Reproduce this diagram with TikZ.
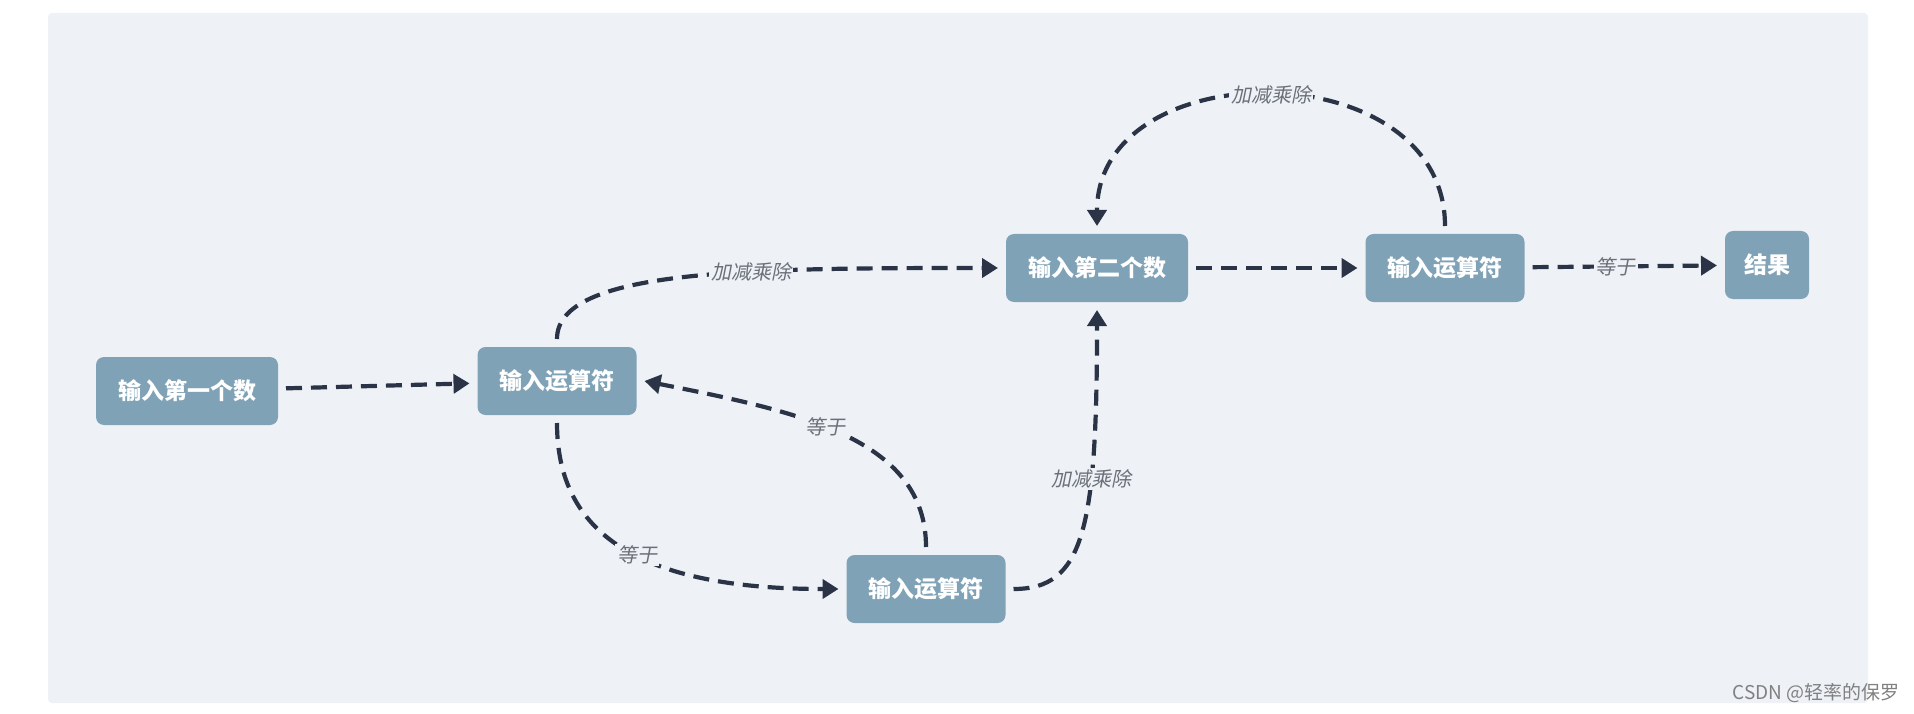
\documentclass[tikz,border=0pt]{standalone}
\usepackage{fontspec}
\usetikzlibrary{arrows.meta}
\newfontfamily\cjk{Noto Sans CJK SC}
\newfontfamily\cjkit{Noto Sans CJK SC}[FakeSlant=0.2]
\definecolor{panelc}{HTML}{EEF2F7}
\definecolor{boxc}{HTML}{7FA2B6}
\definecolor{linec}{HTML}{2B3446}
\definecolor{labelc}{HTML}{6B6F78}
\tikzset{
    stepbox/.style={fill=boxc, rounded corners=8pt, text=white, minimum height=68pt,
        inner xsep=22pt, outer sep=8pt, font=\cjk\bfseries\fontsize{23}{27}\selectfont},
    flow/.style={draw=linec, line width=4.2pt, dash pattern=on 16pt off 9pt,
        -{Triangle[length=16pt,width=19pt]}},
    cond/.style={fill=panelc, text=labelc, inner sep=2pt, font=\cjkit\fontsize{20}{22}\selectfont}
}
\begin{document}
\begin{tikzpicture}[x=1pt,y=-1pt]
        \fill[white] (0,0) rectangle (1914,714);
        \fill[panelc, rounded corners=4pt] (48,13) rectangle (1868,703);
        \useasboundingbox (0,0) rectangle (1914,714);
        \node (first) at (187,391) [stepbox] {输入第一个数};
        \node (opA) at (557,381) [stepbox] {输入运算符};
        \node (second) at (1097,268) [stepbox] {输入第二个数};
        \node (opC) at (1445,268) [stepbox] {输入运算符};
        \node (result) at (1767,265) [stepbox, inner xsep=19pt] {结果};
        \node (opB) at (926,589) [stepbox] {输入运算符};
        \draw[flow] (first) -- (opA);
        \draw[flow] (opA.north) .. controls +(0,-70) and +(-250,0) .. (second.west) node[cond, pos=0.63] {加减乘除};
        \draw[flow] (second) -- (opC);
        \draw[flow] (opC) -- (result) node[cond, pos=0.45] {等于};
        \draw[flow] (opC.north) .. controls +(0,-175) and +(0,-175) .. (second.north) node[cond, pos=0.5] {加减乘除};
        \draw[flow] (opA.south) .. controls +(0,110) and +(-200,0) .. (opB.west) node[cond, pos=0.55] {等于};
        \draw[flow] (opB.north) .. controls +(0,-110) and +(150,30) .. (opA.east) node[cond, pos=0.55] {等于};
        \draw[flow] (opB.east) .. controls +(70,0) and +(0,220) .. (second.south) node[cond, pos=0.67] {加减乘除};
        \node (mark) at (1900,693) [anchor=east, inner sep=0pt, text=gray, font=\cjk\fontsize{19}{22}\selectfont] {CSDN @轻率的保罗};
    \end{tikzpicture}
\end{document}
